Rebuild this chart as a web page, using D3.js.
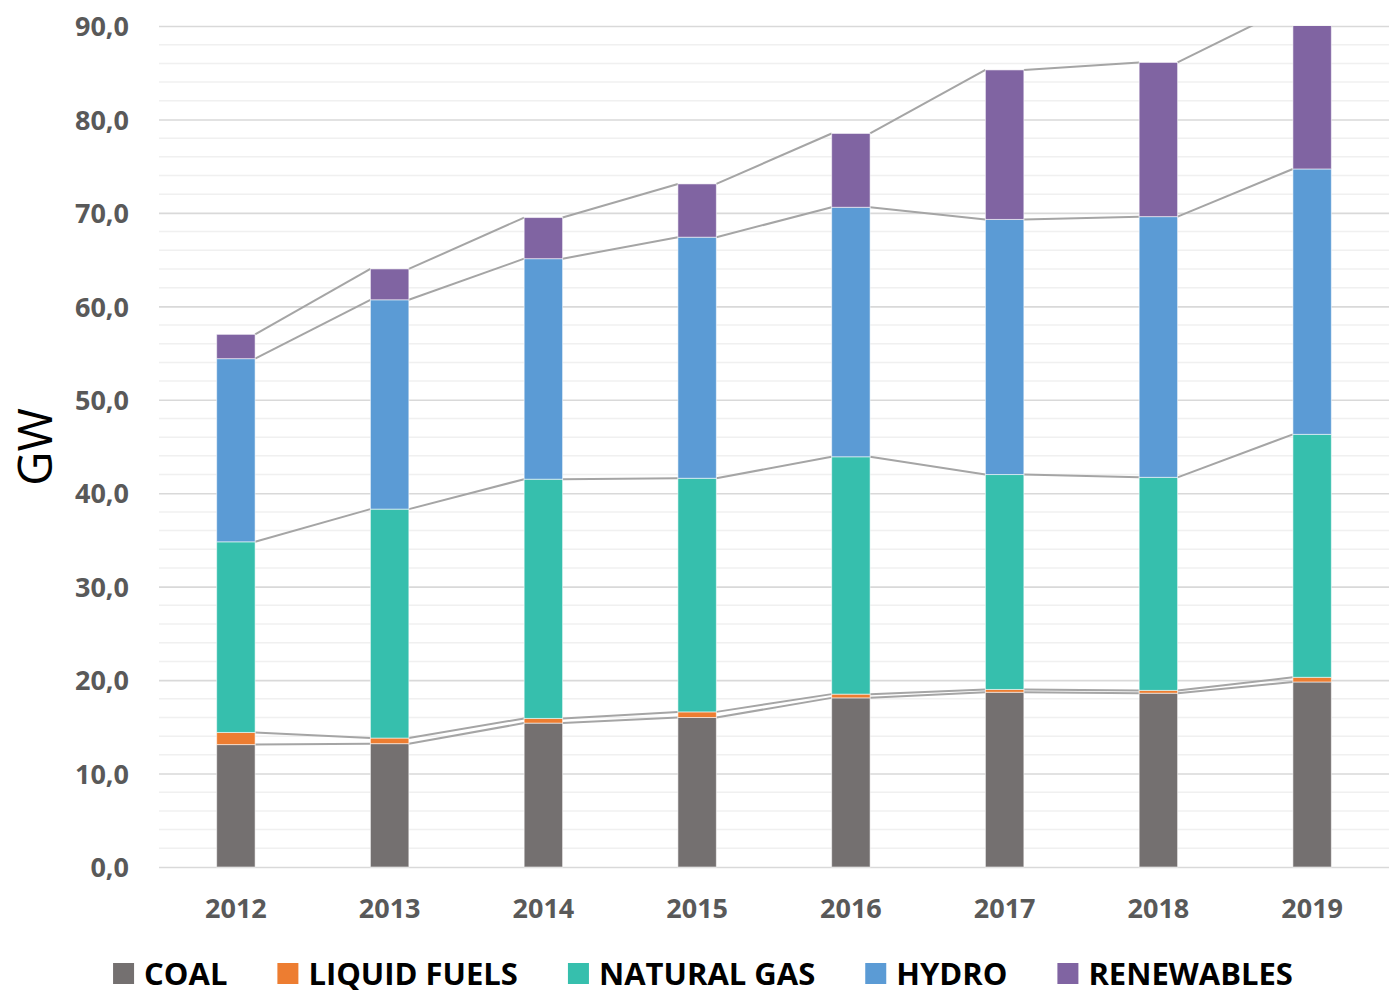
<!DOCTYPE html>
<html>
<head>
<meta charset="utf-8">
<script src="https://cdn.jsdelivr.net/npm/d3@7"></script>
<style>
    body { margin: 0; background: #fff; }
    svg { display: block; font-family: "Open Sans", sans-serif; }
</style>
</head>
<body>
<div id="chart"></div>
<script>
// categories and series (GW)
var years = ["2012", "2013", "2014", "2015", "2016", "2017", "2018", "2019"];
var coal = [13.1, 13.2, 15.4, 16.0, 18.1, 18.7, 18.6, 19.8];
var liquidFuels = [1.3, 0.6, 0.5, 0.6, 0.4, 0.3, 0.3, 0.5];
var naturalGas = [20.4, 24.5, 25.6, 25.0, 25.4, 23.0, 22.8, 26.0];
var hydro = [19.6, 22.4, 23.6, 25.8, 26.7, 27.3, 27.9, 28.4];
var renewables = [2.6, 3.3, 4.4, 5.7, 7.9, 16.0, 16.5, 17.5];
var seriesNames = ["COAL", "LIQUID FUELS", "NATURAL GAS", "HYDRO", "RENEWABLES"];
var yTicks = [0, 10, 20, 30, 40, 50, 60, 70, 80, 90];

var colors = ["#747070", "#ed7d31", "#36bfad", "#5b9bd5", "#8064a2"];

var width = 1396, height = 994;
var margin = { top: 26, right: 7, bottom: 127, left: 159 };
var innerW = width - margin.left - margin.right;
var innerH = height - margin.top - margin.bottom;

// build a table for d3.stack
var table = years.map(function(y, i) {
    return {
        year: y,
        "COAL": coal[i],
        "LIQUID FUELS": liquidFuels[i],
        "NATURAL GAS": naturalGas[i],
        "HYDRO": hydro[i],
        "RENEWABLES": renewables[i]
    };
});
var stacked = d3.stack().keys(seriesNames)(table);

var xScale = d3.scaleBand().domain(years).range([0, innerW]).padding(0);
var yScale = d3.scaleLinear().domain([0, 90]).range([innerH, 0]);
var barW = xScale.bandwidth() * 0.25;

var svg = d3.select("#chart").append("svg")
    .attr("width", width)
    .attr("height", height);

svg.append("defs").append("clipPath").attr("id", "plotClip")
    .append("rect")
    .attr("x", 0).attr("y", 0)
    .attr("width", innerW).attr("height", innerH + 2);

var g = svg.append("g")
    .attr("transform", "translate(" + margin.left + "," + margin.top + ")");

// minor gridlines every 2
var minor = d3.range(0, 91, 2).filter(function(v) { return v % 10 !== 0; });
g.append("g").selectAll("line").data(minor).enter().append("line")
    .attr("x1", 0).attr("x2", innerW)
    .attr("y1", d => yScale(d)).attr("y2", d => yScale(d))
    .attr("stroke", "#f0f0f0").attr("stroke-width", 1.5);

// major gridlines + y axis labels
var yAxis = g.append("g")
    .call(d3.axisLeft(yScale).tickValues(yTicks).tickSize(-innerW).tickPadding(30)
        .tickFormat(d => d3.format(".1f")(d).replace(".", ",")));
yAxis.select(".domain").remove();
yAxis.selectAll(".tick line").attr("stroke", "#d9d9d9").attr("stroke-width", 1.6);
yAxis.selectAll(".tick text")
    .attr("fill", "#595959")
    .style("font-family", "'Open Sans', sans-serif")
    .style("font-size", "27px")
    .style("font-weight", "bold")
    .attr("dy", "0.36em");

// x axis labels
var xAxis = g.append("g")
    .attr("transform", "translate(0," + innerH + ")")
    .call(d3.axisBottom(xScale).tickSize(0).tickPadding(32));
xAxis.select(".domain").remove();
xAxis.selectAll(".tick text")
    .attr("fill", "#595959")
    .style("font-family", "'Open Sans', sans-serif")
    .style("font-size", "27px")
    .style("font-weight", "bold");

var plot = g.append("g").attr("clip-path", "url(#plotClip)");

// series lines between adjacent bars
stacked.forEach(function(layer) {
    var segs = d3.range(years.length - 1);
    plot.append("g").selectAll("line").data(segs).enter().append("line")
        .attr("x1", i => xScale(years[i]) + xScale.bandwidth() / 2 + barW / 2)
        .attr("x2", i => xScale(years[i + 1]) + xScale.bandwidth() / 2 - barW / 2)
        .attr("y1", i => yScale(layer[i][1]))
        .attr("y2", i => yScale(layer[i + 1][1]))
        .attr("stroke", "#a5a5a5")
        .attr("stroke-width", 2);
});

// stacked bars
plot.selectAll(".layer").data(stacked).enter().append("g")
    .attr("class", "layer")
    .attr("fill", (d, i) => colors[i])
    .selectAll("rect").data(d => d).enter().append("rect")
    .attr("x", d => xScale(d.data.year) + xScale.bandwidth() / 2 - barW / 2)
    .attr("y", d => yScale(d[1]))
    .attr("width", barW)
    .attr("height", d => yScale(d[0]) - yScale(d[1]))
    .attr("stroke", "#ffffff")
    .attr("stroke-opacity", 0.55)
    .attr("stroke-width", 1);

// y axis title
svg.append("text")
    .attr("transform", "translate(52,447) rotate(-90)")
    .attr("text-anchor", "middle")
    .style("font-size", "47px")
    .attr("fill", "#000")
    .text("GW");

// legend
var legend = svg.append("g");
var items = legend.selectAll("g").data(seriesNames).enter().append("g");
items.append("rect")
    .attr("width", 21).attr("height", 21)
    .attr("y", 963)
    .attr("fill", (d, i) => colors[i]);
items.append("text")
    .attr("x", 31)
    .attr("y", 985)
    .style("font-size", "31px")
    .style("font-weight", "bold")
    .attr("fill", "#000")
    .text(d => d);

var offsets = [];
var cursor = 0;
items.each(function() {
    var w = d3.select(this).select("text").node().getComputedTextLength();
    offsets.push(cursor);
    cursor += 31 + w + 50;
});
var totalW = cursor - 50;
var startX = 703 - totalW / 2;
items.attr("transform", (d, i) => "translate(" + (startX + offsets[i]) + ",0)");
</script>
</body>
</html>
